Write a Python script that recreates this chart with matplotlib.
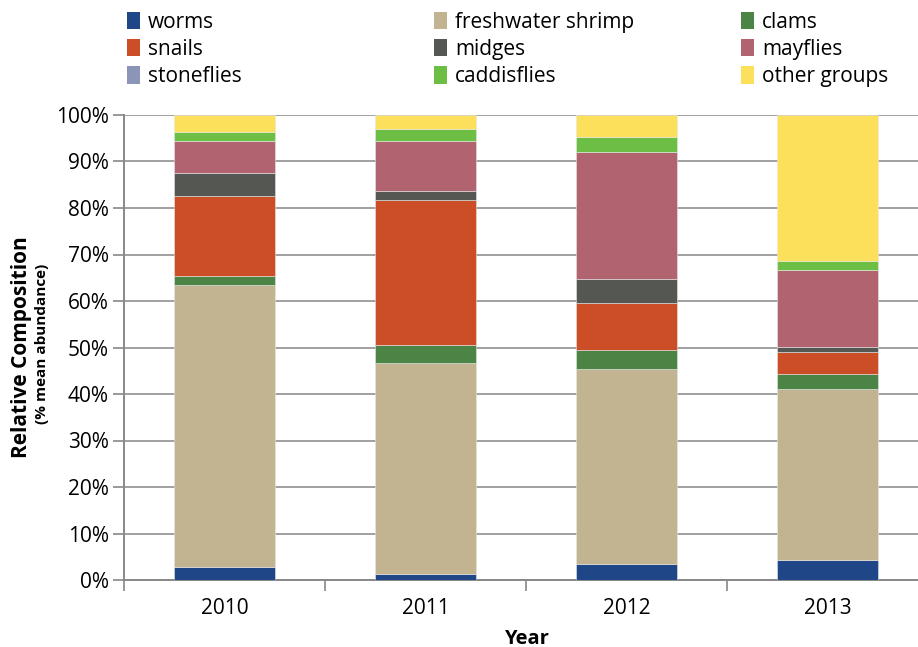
import numpy as np
import matplotlib
matplotlib.use('Agg')
from matplotlib import pyplot as plt
from matplotlib.patches import Patch
from matplotlib.ticker import PercentFormatter, FixedLocator

plt.rcParams['font.family'] = ['Open Sans', 'DejaVu Sans']

####################################### data (% mean abundance)
years = ['2010', '2011', '2012', '2013']
groups = ['worms', 'freshwater shrimp', 'clams', 'snails', 'midges',
          'mayflies', 'stoneflies', 'caddisflies', 'other groups']
worms      = [2.9, 1.3, 3.4, 4.3]
shrimp     = [60.5, 45.3, 42.0, 36.7]
clams      = [1.9, 4.0, 4.1, 3.4]
snails     = [17.3, 31.1, 10.1, 4.6]
midges     = [4.9, 2.0, 5.2, 1.2]
mayflies   = [7.0, 10.8, 27.3, 16.5]
stoneflies = [0.0, 0.0, 0.0, 0.0]
caddis     = [1.9, 2.4, 3.1, 1.9]
other      = [3.6, 3.1, 4.8, 31.4]
series = [worms, shrimp, clams, snails, midges, mayflies, stoneflies, caddis, other]
colors = ['#1F4788', '#C2B490', '#4C8445', '#CB4E27', '#545752',
          '#B1646F', '#8A95B8', '#6DBE45', '#FCDF5A']

####################################### figure
fig = plt.figure(figsize=(9.18, 6.47), dpi=100)
ax = fig.add_axes([124/918, 67/647, 804/918, 465/647])

x = np.arange(len(years))
bottom = np.zeros(len(years))
for vals, col, name in zip(series, colors, groups):
    v = np.array(vals)
    ax.bar(x, v, bottom=bottom, width=0.5, color=col, edgecolor='#e6e6e6',
           linewidth=0.4, label=name, zorder=3)
    bottom += v

ax.set_xlim(-0.5, 3.5)
ax.set_ylim(0, 100)
ax.yaxis.set_major_locator(FixedLocator(np.arange(0, 101, 10)))
ax.yaxis.set_major_formatter(PercentFormatter(decimals=0))
ax.grid(axis='y', color='#999999', linewidth=1.3, zorder=0)
ax.set_xticks(x)
ax.set_xticklabels(years)
ax.set_xticks(np.arange(-0.5, 3.6, 1), minor=True)
ax.tick_params(axis='x', which='major', length=0, pad=13, labelsize=15)
ax.tick_params(axis='x', which='minor', length=8, width=1.2, color='#888888', direction='out')
ax.tick_params(axis='y', length=8, width=1.2, color='#888888', labelsize=15, pad=3)
for s in ['top', 'right']:
    ax.spines[s].set_visible(False)
for s in ['left', 'bottom']:
    ax.spines[s].set_color('#888888')
    ax.spines[s].set_linewidth(1.4)
ax.set_axisbelow(True)

ax.set_xlabel('Year', fontsize=14.5, fontweight='bold', labelpad=7)
fig.text(22/918, 1 - 347/647, 'Relative Composition', rotation=90, ha='center', va='center',
         fontsize=15, fontweight='bold')
fig.text(42/918, 1 - 344/647, '(% mean abundance)', rotation=90, ha='center', va='center',
         fontsize=11, fontweight='bold')

####################################### legend (three columns)
handles = [Patch(facecolor=c, edgecolor='none') for c in colors]
col_x = [119/918, 426/918, 733/918]
for k in range(3):
    idx = [k, k + 3, k + 6]
    fig.legend([handles[i] for i in idx], [groups[i] for i in idx],
               loc='upper left', bbox_to_anchor=(col_x[k], 0.995), frameon=False,
               fontsize=15, handlelength=0.6, handleheight=0.9, handletextpad=0.4,
               labelspacing=0.3, borderaxespad=0)

fig.savefig('out.png', dpi=100)
